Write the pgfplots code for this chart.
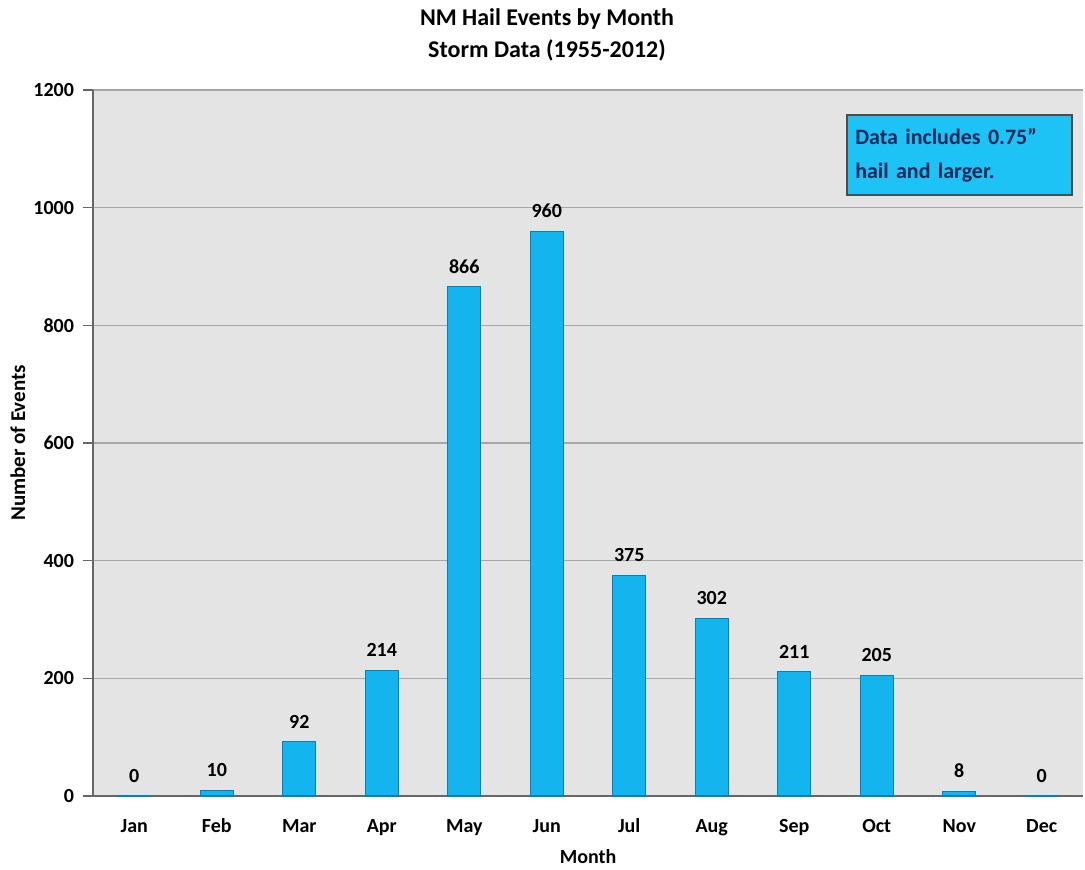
\documentclass[border=0pt]{standalone}
\usepackage{pgfplots}
\pgfplotsset{compat=1.18}
\usepackage{fontspec}
\setmainfont{Carlito}
\definecolor{barfill}{RGB}{20,180,238}
\definecolor{bardraw}{RGB}{0,130,190}
\definecolor{plotbg}{RGB}{228,228,228}
\definecolor{boxfill}{RGB}{30,195,245}
\definecolor{boxtext}{RGB}{20,40,90}
\begin{document}
\begin{tikzpicture}[x=1pt,y=1pt]
\path[use as bounding box] (-46.5,-36.5) rectangle (496,398);
\begin{axis}[
  at={(0,0)}, anchor=origin,
  scale only axis,
  width=495pt, height=353pt,
  xmin=0.5, xmax=12.5,
  ymin=0, ymax=1200,
  ytick={0,200,...,1200},
  xtick={1,...,12},
  xticklabels={Jan,Feb,Mar,Apr,May,Jun,Jul,Aug,Sep,Oct,Nov,Dec},
  major x tick style={draw=none},
  extra x ticks={0.5,1.5,...,12.5},
  extra x tick labels={},
  extra x tick style={major tick length=5pt, tick style={draw=gray!80!black, line width=0.8pt}, tick align=outside, grid=none},
  tick align=outside,
  major tick length=5pt,
  ytick style={draw=gray!80!black, line width=0.8pt},
  ymajorgrids,
  grid style={gray!70, line width=0.8pt},
  axis background/.style={fill=plotbg},
  axis x line*=bottom,
  axis y line*=left,
  axis line style={gray!80!black, line width=1.4pt, -},
  /pgf/number format/assume math mode=true,
  /pgf/number format/1000 sep={},
  ticklabel style={font=\fontsize{10}{12}\selectfont\bfseries},
  xticklabel style={text height=1.6ex, text depth=0.3ex, yshift=-2pt},
  yticklabel style={xshift=-1pt},
  ylabel={Number of Events},
  ylabel style={font=\fontsize{10.5}{12}\selectfont\bfseries, at={(axis description cs:-0.0758,0.5)}, anchor=center},
  xlabel={Month},
  xlabel style={font=\fontsize{10}{12}\selectfont\bfseries, at={(axis description cs:0.5,0)}, anchor=center, yshift=-30.5pt},
  title={NM Hail Events by Month\\Storm Data (1955-2012)},
  title style={font=\fontsize{12}{16}\selectfont\bfseries, align=center, at={(axis description cs:0.5,1)}, anchor=center, xshift=-20.5pt, yshift=21.5pt},
  ybar, bar width=16.5pt,
  nodes near coords,
  every node near coord/.append style={font=\fontsize{10}{12}\selectfont\bfseries, yshift=3pt},
  clip=false,
]
\addplot[fill=barfill, draw=bardraw, line width=0.6pt] coordinates {
(1,0) (2,10) (3,92) (4,214) (5,866) (6,960) (7,375) (8,302) (9,211) (10,205) (11,8) (12,0)
};
\node[fill=boxfill, draw=gray!60!black, line width=1pt, minimum width=112.5pt, minimum height=40pt, text width=104pt, align=left, inner sep=4pt, font=\fontsize{11}{17}\selectfont\bfseries, text=boxtext] at (axis cs:11.0,1089.5) {Data includes 0.75"\\hail and larger.};
\end{axis}
\end{tikzpicture}
\end{document}
